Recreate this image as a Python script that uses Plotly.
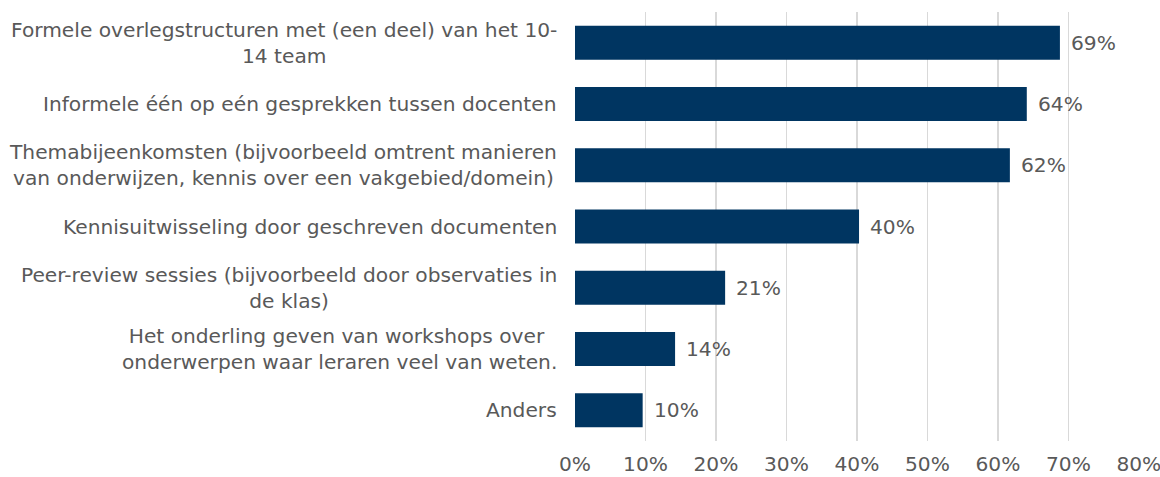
import plotly.graph_objects as go

categories = [
    "Formele overlegstructuren met (een deel) van het 10-<br>14 team",
    "Informele één op eén gesprekken tussen docenten",
    "Themabijeenkomsten (bijvoorbeeld omtrent manieren<br>van onderwijzen, kennis over een vakgebied/domein)",
    "Kennisuitwisseling door geschreven documenten",
    "Peer-review sessies (bijvoorbeeld door observaties in<br>de klas)",
    "Het onderling geven van workshops over <br>onderwerpen waar leraren veel van weten.",
    "Anders",
]
values = [0.688, 0.641, 0.617, 0.403, 0.213, 0.142, 0.096]
value_labels = ["69%", "64%", "62%", "40%", "21%", "14%", "10%"]
x_ticks = [0, 0.1, 0.2, 0.3, 0.4, 0.5, 0.6, 0.7, 0.8]
x_tick_labels = ["0%", "10%", "20%", "30%", "40%", "50%", "60%", "70%", "80%"]

FONT = "DejaVu Sans, Verdana, sans-serif"
GREY = "#595959"
FS = 20.2

fig = go.Figure(go.Bar(
    x=values,
    y=categories,
    orientation="h",
    marker=dict(color="#003561", line=dict(width=0)),
    width=0.555,
    hoverinfo="skip",
))

annotations = [
    dict(x=0, y=c, xref="paper", yref="y", text=c, showarrow=False,
         xanchor="right", yanchor="middle", align="center", xshift=-16,
         font=dict(family=FONT, size=FS, color=GREY))
    for c in categories
]
annotations += [
    dict(x=v, y=c, xref="x", yref="y", text=t, showarrow=False,
         xanchor="left", yanchor="middle", xshift=9,
         font=dict(family=FONT, size=FS, color=GREY))
    for v, c, t in zip(values, categories, value_labels)
]

fig.update_layout(
    width=1160, height=477,
    margin=dict(l=575, r=21, t=12, b=36, autoexpand=False),
    paper_bgcolor="white", plot_bgcolor="white",
    showlegend=False,
    annotations=annotations,
    xaxis=dict(range=[0, 0.8002], tickvals=x_ticks, ticktext=x_tick_labels,
               showgrid=True, gridcolor="#d9d9d9", gridwidth=1.3,
               zeroline=False, showline=False, ticks="",
               automargin=False, ticklabeloverflow="allow",
               ticklabelstandoff=9,
               tickfont=dict(family=FONT, size=FS, color=GREY)),
    yaxis=dict(autorange="reversed", showticklabels=False, showgrid=False,
               zeroline=False, showline=False, ticks="", automargin=False),
)

fig.write_html("out.html", config={"displayModeBar": False, "staticPlot": True},
               post_script="document.body.style.margin='0';document.body.style.overflow='hidden';")
